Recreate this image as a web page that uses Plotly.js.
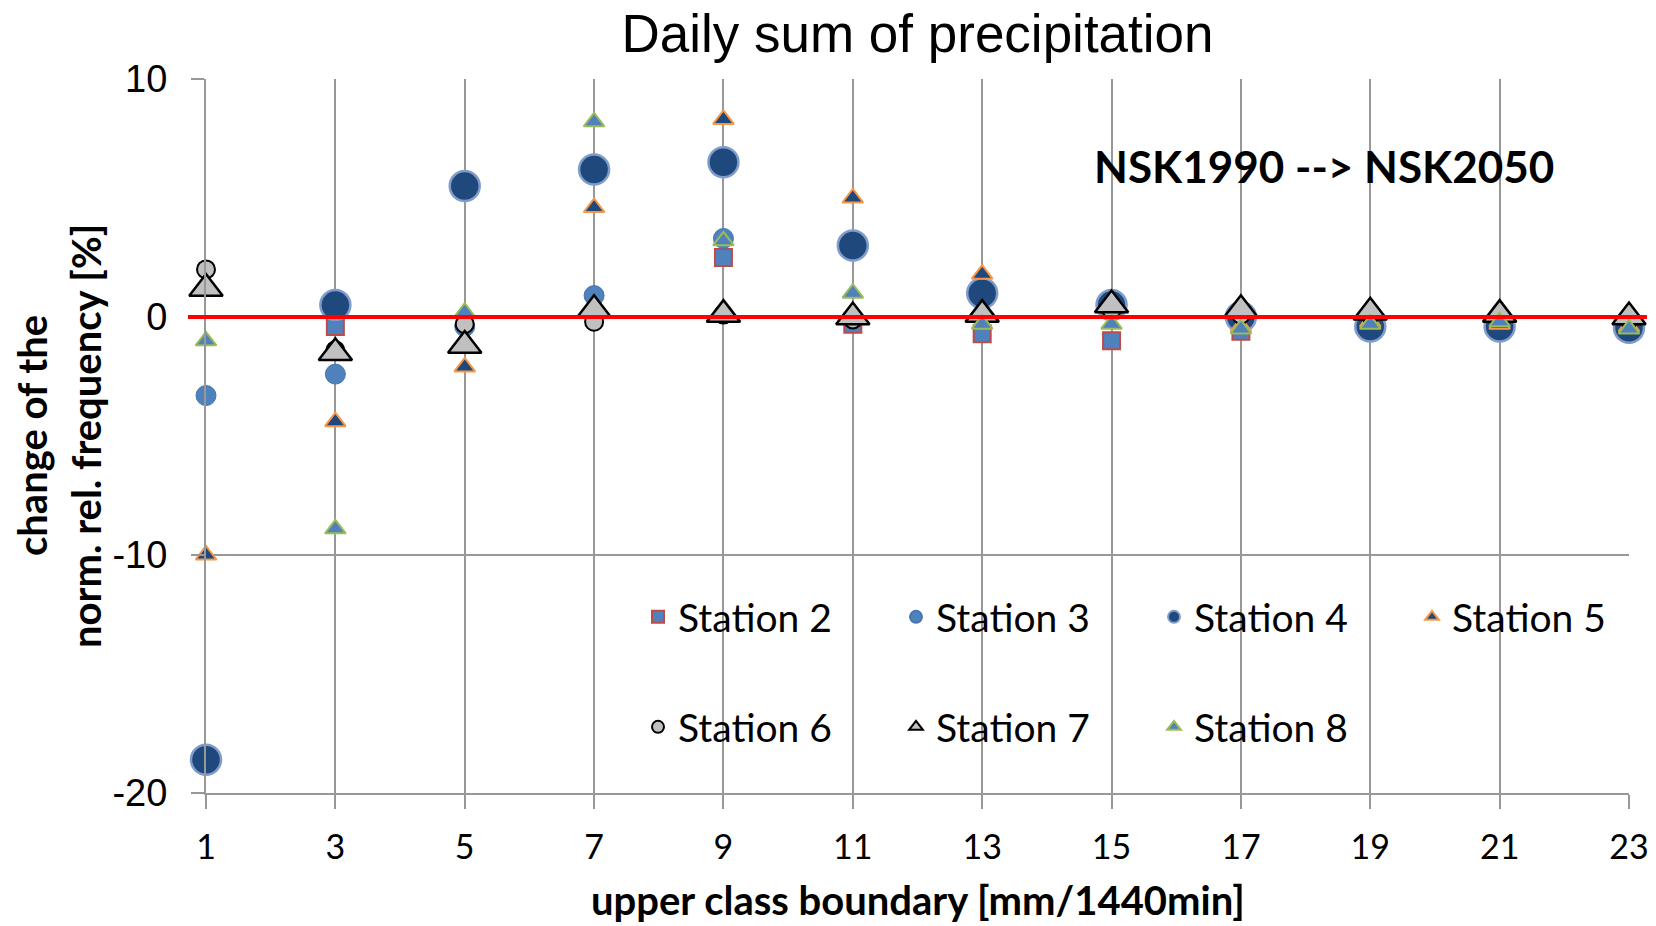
<!DOCTYPE html>
<html>
<head>
<meta charset="utf-8">
<script src="https://cdn.plot.ly/plotly-3.0.1.min.js"></script>
<style>html,body{margin:0;padding:0;background:#fff;}#chart{width:1656px;height:926px;}</style>
</head>
<body>
<div id="chart"></div>
<script>
// x categories: upper class boundary [mm/1440min]
const classBoundary = [1, 3, 5, 7, 9, 11, 13, 15, 17, 19, 21, 23];
const xTickLabels = ["1", "3", "5", "7", "9", "11", "13", "15", "17", "19", "21", "23"];
const yTickValues = [-20, -10, 0, 10];
const yTickLabels = ["-20", "-10", "0", "10"];

// change of the normalised relative frequency [%] per station
const station2 = [-18.5, -0.4, 5.4, 6.2, 2.5, -0.3, -0.7, -1.0, -0.6, -0.3, -0.2, -0.3];
const station3 = [-3.3, -2.4, -0.4, 0.9, 3.3, 3.2, 1.0, 0.4, 0.0, -0.4, -0.4, -0.4];
const station4 = [-18.6, 0.5, 5.5, 6.2, 6.5, 3.0, 1.0, 0.5, 0.0, -0.4, -0.4, -0.45];
const station5 = [-10.0, -4.4, -2.1, 4.6, 8.3, 5.0, 1.8, 0.2, -0.4, -0.2, -0.3, -0.4];
const station6 = [2.0, -1.4, -0.3, -0.2, 0.1, -0.1, 0.0, 0.3, 0.1, 0.1, 0.0, -0.1];
const station7 = [1.2, -1.5, -1.2, 0.3, 0.1, 0.0, 0.1, 0.5, 0.3, 0.2, 0.1, 0.0];
const station8 = [-1.0, -8.9, 0.2, 8.2, 3.2, 1.0, -0.3, -0.3, -0.5, -0.3, -0.2, -0.5];

const calibri = "Lato, 'Open Sans', sans-serif";
const arial = "'Liberation Sans', Arial, sans-serif";

function tr(name, y, symbol, size, fill, line, lw, legend) {
  return {
    type: 'scatter', mode: 'markers', name: name, x: classBoundary, y: y,
    cliponaxis: false, legend: legend,
    marker: {symbol: symbol, size: size, color: fill, line: {color: line, width: lw}}
  };
}

const data = [
  tr('Station 2', station2, 'square', 17, '#4f81bd', '#be4b48', 2, 'legend'),
  tr('Station 3', station3, 'circle', 20, '#4f81bd', '#4676b2', 1, 'legend'),
  tr('Station 4', station4, 'circle', 30, '#1f497d', '#7f9ccb', 2.5, 'legend'),
  tr('Station 5', station5, 'triangle-up', 18, '#1f497d', '#f79646', 2, 'legend'),
  tr('Station 6', station6, 'circle', 18, '#c0c0c0', '#000000', 2, 'legend2'),
  tr('Station 7', station7, 'triangle-up', 29, '#c0c0c0', '#000000', 2.5, 'legend2'),
  tr('Station 8', station8, 'triangle-up', 18, '#4f81bd', '#9bbb59', 2, 'legend2')
];

const gridCol = '#989898';
const legendCommon = {
  orientation: 'h', xanchor: 'left', yanchor: 'middle', entrywidth: 213,
  font: {family: calibri, size: 39, color: '#000'}, bgcolor: 'rgba(0,0,0,0)',
  itemsizing: 'constant', itemclick: false
};

const L = 206, W = 1423, T = 79, H = 714;
const px = v => (v - L) / W;
const py = v => 1 - (v - T) / H;

const layout = {
  width: 1656, height: 926,
  margin: {l: 206, r: 27, t: 79, b: 133, autoexpand: false},
  paper_bgcolor: '#fff', plot_bgcolor: '#fff',
  title: {text: 'Daily sum of precipitation', font: {family: arial, size: 53, color: '#000'},
          xref: 'paper', x: 0.5, xanchor: 'center', yref: 'container', y: 1 - 33/926, yanchor: 'middle'},
  xaxis: {
    range: [1, 23], tickmode: 'array', tickvals: classBoundary, ticktext: xTickLabels,
    showgrid: true, gridcolor: gridCol, gridwidth: 2,
    showline: true, linecolor: gridCol, linewidth: 2,
    ticks: 'outside', ticklen: 14, tickcolor: gridCol, tickwidth: 2,
    ticklabelstandoff: 9,
    tickfont: {family: calibri, size: 34, color: '#000'}, zeroline: false
  },
  yaxis: {
    range: [-20, 10], tickmode: 'array', tickvals: yTickValues, ticktext: yTickLabels,
    showgrid: true, gridcolor: gridCol, gridwidth: 2,
    showline: true, linecolor: gridCol, linewidth: 2,
    ticks: 'outside', ticklen: 13, tickcolor: gridCol, tickwidth: 2,
    ticklabelstandoff: 16,
    tickfont: {family: arial, size: 38, color: '#000'}, zeroline: false
  },
  shapes: [{type: 'line', xref: 'paper', yref: 'paper', x0: px(188), x1: px(1647), y0: 2/3, y1: 2/3,
            line: {color: '#ff0000', width: 4}, layer: 'above'}],
  annotations: [
    {text: '<b>NSK1990 --> NSK2050</b>', xref: 'paper', yref: 'paper', x: px(1324), y: py(166),
     xanchor: 'center', yanchor: 'middle', showarrow: false, font: {family: calibri, size: 44, color: '#000'}},
    {text: '<b>change of the</b>', xref: 'paper', yref: 'paper', x: px(32), y: py(436), textangle: -90,
     xanchor: 'center', yanchor: 'middle', showarrow: false, font: {family: calibri, size: 40, color: '#000'}},
    {text: '<b>norm. rel. frequency [%]</b>', xref: 'paper', yref: 'paper', x: px(86), y: py(436), textangle: -90,
     xanchor: 'center', yanchor: 'middle', showarrow: false, font: {family: calibri, size: 40, color: '#000'}},
    {text: '<b>upper class boundary [mm/1440min]</b>', xref: 'paper', yref: 'paper', x: 0.5, y: py(900),
     xanchor: 'center', yanchor: 'middle', showarrow: false, font: {family: calibri, size: 40, color: '#000'}}
  ],
  legend: Object.assign({x: px(638), y: py(617)}, legendCommon),
  legend2: Object.assign({x: px(638), y: py(727)}, legendCommon),
  showlegend: true
};

Plotly.newPlot('chart', data, layout, {displayModeBar: false, staticPlot: true});
</script>
</body>
</html>
